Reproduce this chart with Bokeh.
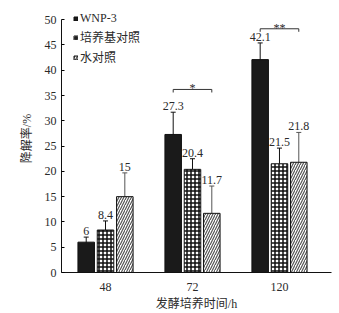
from bokeh.plotting import figure
from bokeh.models import Range1d, ColumnDataSource, Whisker, TeeHead, Legend, LegendItem, FixedTicker
from bokeh.embed import file_html
from bokeh.resources import INLINE
from bokeh.core.properties import value

# ---- data ----
times = ["48", "72", "120"]
series = ["WNP-3", "培养基对照", "水对照"]
wnp = [6, 27.3, 42.1]
wnp_err = [1.0, 4.4, 3.3]
medium = [8.4, 20.4, 21.5]
medium_err = [1.8, 2.1, 3.1]
water = [15, 11.7, 21.8]
water_err = [4.7, 5.4, 5.9]
sig_groups = ["72", "120"]
sig_marks = ["*", "**"]
sig_levels = [36.2, 48.2]

FONT = "Liberation Serif, Noto Sans CJK SC"
TXT = "#2a2a2a"

p = figure(width=339, height=313, output_backend="svg", toolbar_location=None,
           x_range=Range1d(0.494, 3.598), y_range=Range1d(0, 53),
           min_border_left=61, min_border_right=8, min_border_top=4, min_border_bottom=36)
p.outline_line_color = None
p.xgrid.grid_line_color = None
p.ygrid.grid_line_color = None
p.background_fill_color = "white"
p.border_fill_color = "white"

gx = list(range(1, len(times) + 1))
off = 0.222
bw = 0.19

styles = [
    dict(fill_color="#1a1a1a", hatch_pattern=None),
    dict(fill_color="white", hatch_pattern="cross", hatch_color="#111111", hatch_scale=4, hatch_weight=1.5),
    dict(fill_color="white", hatch_pattern="right_diagonal_line", hatch_color="#555555", hatch_scale=5, hatch_weight=1.2),
]
vals = [wnp, medium, water]
errs = [wnp_err, medium_err, water_err]
err_colors = ["#111111", "#111111", "#555555"]

renderers = []
for i, (v, e, st) in enumerate(zip(vals, errs, styles)):
    xs = [g + (i - 1) * off for g in gx]
    src = ColumnDataSource(dict(x=xs, top=v, lo=[a - b for a, b in zip(v, e)],
                                hi=[a + b for a, b in zip(v, e)],
                                lab=[("%g" % a) for a in v]))
    kw = {k: val for k, val in st.items() if val is not None}
    r = p.vbar(x="x", top="top", bottom=0, width=bw, source=src, line_color="#111111", line_width=1, **kw)
    renderers.append(r)
    w = Whisker(base="x", lower="lo", upper="hi", source=src, dimension="height",
                line_color=err_colors[i], line_width=1,
                upper_head=TeeHead(size=5, line_color=err_colors[i], line_width=1),
                lower_head=TeeHead(size=5, line_color=err_colors[i], line_width=1))
    p.add_layout(w)
    p.text(x="x", y="hi", text="lab", source=src, text_align="center", text_baseline="bottom",
           y_offset=-2, text_font=value(FONT), text_font_size="12px", text_color=TXT)

# significance brackets
for g, m, lvl in zip(sig_groups, sig_marks, sig_levels):
    c = times.index(g) + 1
    x0, x1 = c - off, c + off
    p.segment(x0=[x0, x0, x1], y0=[lvl, lvl, lvl], x1=[x1, x0, x1], y1=[lvl, lvl - 0.6, lvl - 0.6],
              line_color="#333333", line_width=1)
    p.text(x=[c], y=[lvl], text=[m], text_align="center", text_baseline="alphabetic", y_offset=-1,
           text_font=value(FONT), text_font_size="12px", text_color=TXT)

# axes
p.xaxis.ticker = FixedTicker(ticks=gx)
p.xaxis.major_label_overrides = {g: t for g, t in zip(gx, times)}
p.xaxis.major_tick_line_color = None
p.xaxis.minor_tick_line_color = None
p.xaxis.axis_label = "发酵培养时间/h"
p.yaxis.axis_label = "降解率/%"
p.yaxis.ticker = FixedTicker(ticks=list(range(0, 51, 5)))
p.yaxis.bounds = (0, 50)
p.yaxis.major_tick_in = 3
p.yaxis.major_tick_out = 0
p.yaxis.minor_tick_line_color = None
for ax in (p.xaxis, p.yaxis):
    ax.axis_line_color = "#111111"
    ax.major_label_text_font = FONT
    ax.major_label_text_font_size = "12px"
    ax.major_label_text_color = TXT
    ax.axis_label_text_font = FONT
    ax.axis_label_text_font_size = "12px"
    ax.axis_label_text_font_style = "normal"
    ax.axis_label_text_color = TXT
p.xaxis.major_label_standoff = 4
p.xaxis.axis_label_standoff = 3
p.yaxis.major_label_standoff = 5
p.yaxis.axis_label_standoff = 8

legend = Legend(items=[LegendItem(label=s, renderers=[r]) for s, r in zip(series, renderers)],
                location=(12, 206))
legend.glyph_width = 5
legend.glyph_height = 5
legend.label_height = 16
legend.spacing = 2
legend.padding = 1
legend.margin = 0
legend.label_standoff = 2
legend.border_line_color = None
legend.background_fill_alpha = 0
legend.label_text_font = FONT
legend.label_text_font_size = "12px"
legend.label_text_color = TXT
p.add_layout(legend)

open("out.html", "w").write(file_html(p, INLINE))
